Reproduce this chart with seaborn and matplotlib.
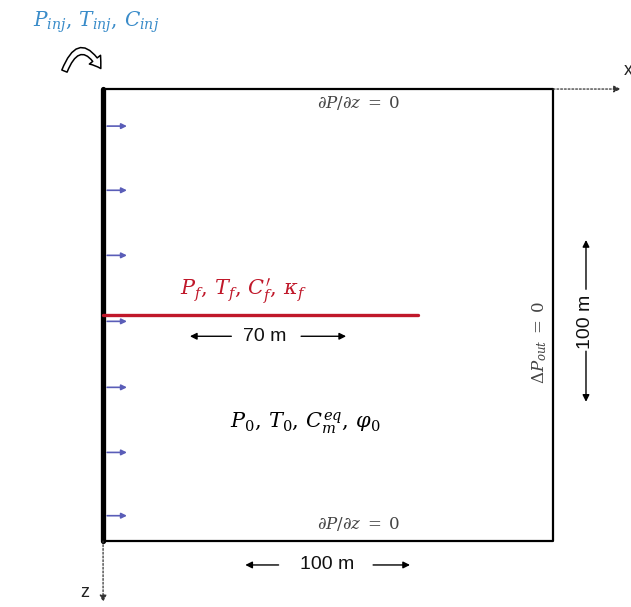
import matplotlib
matplotlib.use("Agg")
import matplotlib.pyplot as plt
from matplotlib.patches import FancyArrowPatch
import pandas as pd
import seaborn as sns

# Model geometry (metres)
domain_width = 100
domain_depth = 100
fracture_length = 70
fracture_depth = 50
# depths of the injection inflow arrows along the well (m)
inflow_z = [8.2, 22.4, 36.8, 51.4, 66.0, 80.4, 94.4]

sns.set_theme(style="white")
plt.rcParams["font.family"] = ["Liberation Sans", "DejaVu Sans"]
plt.rcParams["mathtext.fontset"] = "dejavuserif"

fig = plt.figure(figsize=(6.31, 6.07), dpi=100)
ax = fig.add_axes([0, 0, 1, 1])
ax.set_xlim(-22.9, 117.3)
ax.set_ylim(114.6, -19.7)
ax.axis("off")

line_kw = dict(x="x", y="z", sort=False, estimator=None, errorbar=None, ax=ax)

# domain outline
box = pd.DataFrame({
    "x": [0, domain_width, domain_width, 0],
    "z": [0, 0, domain_depth, domain_depth],
})
sns.lineplot(data=box, color="black", lw=1.6, **line_kw)

# injection well (left boundary)
well = pd.DataFrame({"x": [0, 0], "z": [0, domain_depth]})
sns.lineplot(data=well, color="black", lw=3.8, **line_kw)

# fracture
frac = pd.DataFrame({"x": [0, fracture_length], "z": [fracture_depth, fracture_depth]})
sns.lineplot(data=frac, color="#c0182a", lw=2.4, **line_kw)

# inflow arrows
for z in inflow_z:
    ax.annotate("", xy=(5.3, z), xytext=(0.9, z),
                arrowprops=dict(arrowstyle="-|>", color="#5a5db8", lw=1.2,
                                mutation_scale=8, shrinkA=0, shrinkB=0))

# coordinate axes (dotted)
ax.annotate("", xy=(115.0, 0), xytext=(domain_width, 0),
            arrowprops=dict(arrowstyle="-|>", color="#333333", lw=0.9, ls=(0, (1.5, 1.5)),
                            mutation_scale=10, shrinkA=0, shrinkB=0))
ax.annotate("", xy=(0, 113.5), xytext=(0, domain_depth),
            arrowprops=dict(arrowstyle="-|>", color="#333333", lw=0.9, ls=(0, (1.5, 1.5)),
                            mutation_scale=10, shrinkA=0, shrinkB=0))
ax.text(116.6, -4.2, "x", fontsize=13, ha="center", va="center", color="#222222")
ax.text(-4.1, 111.4, "z", fontsize=13, ha="center", va="center", color="#222222")

# injection conditions and curved arrow
ax.text(-1.5, -14.8, r"$P_{inj},\,T_{inj},\,C_{inj}$", fontsize=14.5, color="#3a8cc9",
        ha="center", va="center")
curl = FancyArrowPatch((-8.8, -3.4), (-0.2, -4.0), connectionstyle="arc3,rad=-1.1",
                       arrowstyle="simple,head_width=6,head_length=4.5,tail_width=2.4",
                       mutation_scale=1.7, fc="white", ec="black", lw=1.1)
ax.add_patch(curl)

# boundary conditions
bc = r"$\partial P/\partial z\;=\;0$"
ax.text(56.7, 3.1, bc, fontsize=12, color="#444444", ha="center", va="center")
ax.text(56.7, 96.2, bc, fontsize=12, color="#444444", ha="center", va="center")
ax.text(96.9, 56.0, r"$\Delta P_{out}\;=\;0$", fontsize=12, color="#444444",
        ha="center", va="center", rotation=90)

# labels for fracture and matrix
ax.text(31.3, 44.7, r"$P_f,\,T_f,\,C_f^{\prime},\,\kappa_f$", fontsize=15, color="#c0182a",
        ha="center", va="center")
ax.text(44.9, 73.9, r"$P_0,\,T_0,\,C_m^{eq},\,\varphi_0$", fontsize=15, color="black",
        ha="center", va="center")

# dimension arrows
dim_kw = dict(arrowstyle="-|>", color="black", lw=1.0, mutation_scale=10,
              shrinkA=0, shrinkB=0)


def dimension(text, cx, cz, a0, a1, b0, b1, vertical=False):
    ax.text(cx, cz, text, fontsize=14, ha="center", va="center",
            rotation=90 if vertical else 0, color="#111111")
    ax.annotate("", xy=a1, xytext=a0, arrowprops=dim_kw)
    ax.annotate("", xy=b1, xytext=b0, arrowprops=dim_kw)


dimension(f"{fracture_length} m", 36.0, 54.7, (28.5, 54.7), (19.3, 54.7),
          (44.0, 54.7), (54.0, 54.7))
dimension(f"{domain_width} m", 49.8, 105.3, (39.0, 105.3), (31.6, 105.3),
          (60.0, 105.3), (68.2, 105.3))
dimension(f"{domain_depth} m", 107.3, 51.5, (107.3, 44.3), (107.3, 33.4),
          (107.3, 58.0), (107.3, 69.2), vertical=True)

fig.savefig("out.png", dpi=100)
